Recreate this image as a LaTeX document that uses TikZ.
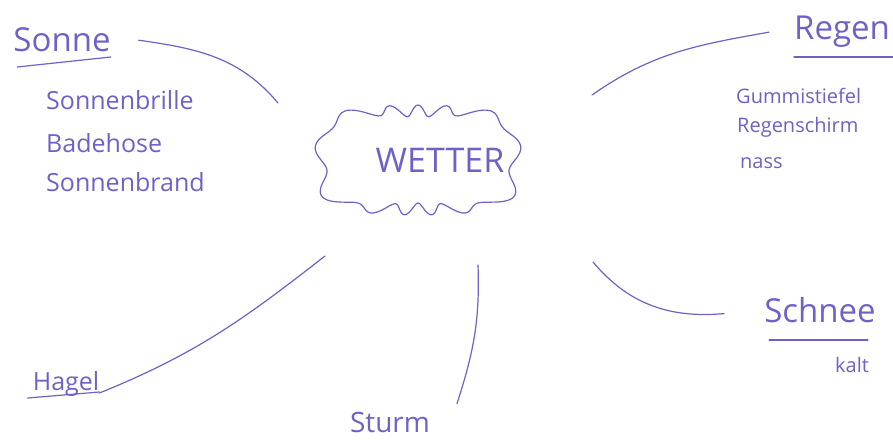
\documentclass[tikz,border=0pt]{standalone}
\usepackage{fontspec}
\setmainfont{Open Sans}
\definecolor{inkblue}{RGB}{108,98,200}
\tikzset{
  ink/.style={draw=inkblue, line width=1.2pt, line cap=round},
  head/.style={text=inkblue, font=\fontsize{33}{36}\selectfont, inner sep=0pt, anchor=base},
  item/.style={text=inkblue, font=\fontsize{25}{28}\selectfont, inner sep=0pt, anchor=base west},
  small/.style={text=inkblue, font=\fontsize{20}{22}\selectfont, inner sep=0pt, anchor=base west},
  centre/.style={text=inkblue, font=\fontsize{34}{36}\selectfont, inner sep=0pt},
}
\begin{document}
\begin{tikzpicture}[x=1pt, y=1pt,
    declare function={cr(\t)=97/pow(pow(abs(cos(\t)),4)+pow(abs(sin(\t))*1.98,4),0.25)+6*sin(13*\t);}]
    \useasboundingbox (0,0) rectangle (893,-441);
    % wavy cloud
    \draw[ink, line join=round] plot[smooth cycle, domain=0:358, samples=180]
        ({418+cr(\x)*cos(\x)}, {-160+cr(\x)*sin(\x)});
    \node[centre] (wetter) at (440,-160) {WETTER};
    % Sonne
    \node[head] (sonne) at (62,-52) {Sonne};
    \draw[ink] ([xshift=4pt,yshift=-15pt]sonne.base west) -- ([yshift=-5pt]sonne.base east);
    \node[item] (brille) at (46,-110) {Sonnenbrille};
    \node[item] (badehose) at (46,-152) {Badehose};
    \node[item] (brand) at (46,-191) {Sonnenbrand};
    \draw[ink] ([xshift=28pt]sonne.east) to[out=-8, in=130] (278,-103);
    % Regen
    \node[head] (regen) at (842,-40) {Regen};
    \draw[ink] ([yshift=-17pt]regen.base west) -- ([yshift=-17pt,xshift=6pt]regen.base east);
    \node[small] (stiefel) at (736,-103) {Gummistiefel};
    \node[small] (schirm) at (737,-132) {Regenschirm};
    \node[small] (nass) at (740,-168) {nass};
    \draw[ink] ([xshift=-25pt]regen.west) to[out=190, in=35] (592,-95);
    % Schnee
    \node[head] (schnee) at (820,-322) {Schnee};
    \draw[ink] ([xshift=5pt,yshift=-18pt]schnee.base west) -- ([xshift=-8pt,yshift=-18pt]schnee.base east);
    \node[small] (kalt) at (835,-372) {kalt};
    \draw[ink] ([xshift=-40pt,yshift=-4pt]schnee.west) to[out=185, in=-50] (593,-262);
    % Hagel
    \node[head, font=\fontsize{25}{28}\selectfont] (hagel) at (66,-390) {Hagel};
    \draw[ink] ([xshift=-5pt,yshift=-8pt]hagel.base west) -- ([yshift=-2pt]hagel.base east);
    \draw[ink] ([yshift=-3pt]hagel.base east) to[out=22, in=218] (325,-256);
    % Sturm
    \node[head, font=\fontsize{28}{30}\selectfont] (sturm) at (390,-432) {Sturm};
    \draw[ink] ([xshift=67pt,yshift=8pt]sturm.north) to[out=72, in=-88] (478,-265);
\end{tikzpicture}
\end{document}
